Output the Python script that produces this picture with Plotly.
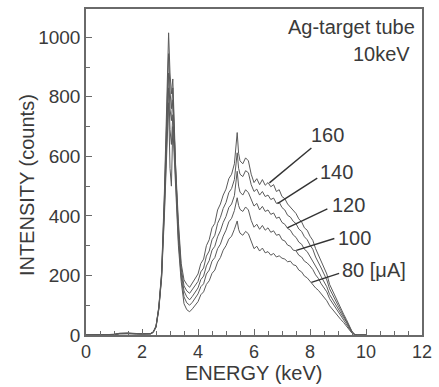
import plotly.graph_objects as go

# ---------------- data ----------------
energy = [0.0, 0.5, 1.0, 1.2, 1.5, 1.8, 2.0, 2.2, 2.3,
          2.4, 2.5, 2.6, 2.7, 2.8, 2.85, 2.9, 2.95, 3.0, 3.05, 3.1, 3.15, 3.2, 3.3, 3.4, 3.5,
          3.6, 3.7, 3.8, 3.9, 4.0, 4.1, 4.2, 4.3, 4.4, 4.5, 4.6, 4.7, 4.8, 4.9, 5.0, 5.1, 5.2, 5.3,
          5.35, 5.4, 5.45,
          5.5, 5.6, 5.7, 5.8, 5.9, 6.0, 6.1, 6.2, 6.3, 6.4, 6.5, 6.6, 6.7, 6.8, 6.9, 7.0, 7.1, 7.2,
          7.3, 7.4, 7.5, 7.6, 7.7, 7.8, 7.9, 8.0, 8.1, 8.2, 8.3, 8.4, 8.5, 8.6, 8.7, 8.8, 8.9, 9.0,
          9.1, 9.2, 9.3, 9.4, 9.5, 9.6, 9.7,
          10.0]

i160 = [0, 0, 2, 6, 7, 5, 4, 3, 5,
        10, 30, 95, 210, 480, 680, 890, 1015, 880, 810, 860, 730, 570, 380, 240, 185,
        170, 160, 175, 190, 205, 240, 255, 300, 320, 360, 375, 420, 440, 470, 490, 525, 540, 575,
        625, 680, 610,
        585, 575, 595, 585, 540, 512, 525, 505, 522, 503, 512, 498, 505, 482, 488, 465, 458, 440,
        430, 420, 408, 390, 380, 360, 352, 332, 318, 290, 270, 250, 225, 205, 170, 150, 125, 110,
        90, 70, 52, 30, 12, 2, 0,
        0]

i140 = [0, 0, 2, 5, 6, 5, 4, 3, 5,
        10, 30, 92, 205, 460, 640, 840, 945, 820, 760, 830, 700, 550, 360, 225, 165,
        148, 140, 152, 168, 180, 212, 225, 265, 282, 320, 335, 375, 395, 425, 445, 478, 492, 522,
        565, 612, 560,
        540, 532, 552, 545, 505, 482, 490, 470, 482, 465, 470, 455, 460, 442, 446, 428, 420, 402,
        396, 382, 374, 356, 348, 330, 320, 302, 288, 262, 245, 225, 205, 185, 155, 135, 115, 100,
        82, 64, 48, 28, 11, 2, 0,
        0]

i120 = [0, 0, 2, 5, 6, 4, 3, 3, 4,
        10, 28, 90, 200, 440, 610, 790, 880, 760, 720, 790, 670, 530, 340, 210, 148,
        128, 118, 130, 145, 158, 186, 198, 232, 250, 285, 298, 330, 350, 378, 398, 428, 440, 468,
        508, 550, 500,
        480, 470, 488, 478, 455, 433, 442, 420, 432, 415, 420, 405, 410, 392, 396, 378, 372, 358,
        352, 336, 328, 312, 305, 288, 280, 264, 250, 230, 215, 196, 180, 162, 136, 120, 102, 90,
        74, 58, 44, 25, 9, 1, 0,
        0]

i100 = [0, 0, 1, 4, 5, 4, 3, 2, 4,
        9, 27, 88, 195, 420, 580, 750, 830, 690, 640, 740, 630, 505, 320, 195, 128,
        108, 100, 110, 125, 138, 162, 172, 205, 218, 248, 260, 290, 305, 332, 352, 380, 392, 418,
        440, 461, 435,
        422, 415, 430, 420, 385, 362, 372, 355, 368, 352, 360, 345, 350, 335, 338, 320, 316, 302,
        298, 285, 283, 268, 262, 248, 242, 232, 220, 202, 190, 172, 160, 145, 122, 108, 92, 80,
        66, 52, 40, 22, 8, 1, 0,
        0]

i80 = [0, 0, 1, 4, 5, 3, 3, 2, 3,
       8, 25, 85, 190, 400, 550, 710, 780, 560, 500, 700, 600, 480, 300, 180, 105,
       85, 78, 88, 100, 112, 135, 145, 170, 182, 207, 218, 245, 260, 285, 300, 322, 332, 355,
       370, 383, 355,
       342, 335, 348, 340, 312, 290, 298, 282, 292, 276, 280, 268, 274, 262, 266, 258, 255, 246,
       248, 236, 233, 218, 212, 198, 192, 180, 172, 158, 150, 138, 130, 115, 98, 86, 74, 64,
       52, 42, 30, 17, 6, 1, 0,
       0]

series = [("160", i160), ("140", i140), ("120", i120), ("100", i100), ("80", i80)]

curve_labels = ["160", "140", "120", "100", "80 [\u03bcA]"]
# label anchor (left, middle) and leader line (start -> point on curve), data coordinates
label_pos = [(7.95, 671), (8.30, 547), (8.72, 437), (8.93, 327), (9.08, 220)]
leader_start = [(8.05, 628), (8.26, 527), (8.62, 424), (8.87, 324), (9.04, 207)]
leader_end = [(6.55, 511), (6.84, 441), (7.19, 360), (7.51, 284), (8.05, 177)]

x_ticks = [0, 2, 4, 6, 8, 10, 12]
y_ticks = [0, 200, 400, 600, 800, 1000]

# ---------------- figure ----------------
FONT = "Liberation Sans, Arial, sans-serif"
TXT = "#3a3a3a"
L, R, T, B = 86, 16, 7, 52
W, H = 439, 387
pw, ph = W - L - R, H - T - B


def px_to_paper(xp, yp):
    return (xp - L) / pw, (H - B - yp) / ph


fig = go.Figure()
for name, vals in series:
    fig.add_trace(go.Scatter(x=energy, y=vals, mode="lines", name=name,
                             line=dict(color="#5a5a5a", width=1), showlegend=False,
                             hoverinfo="skip"))

for (sx, sy), (ex, ey) in zip(leader_start, leader_end):
    fig.add_shape(type="line", x0=sx, y0=sy, x1=ex, y1=ey, xref="x", yref="y",
                  line=dict(color="#333333", width=1.4))

for txt, (lx, ly) in zip(curve_labels, label_pos):
    fig.add_annotation(x=lx, y=ly, xref="x", yref="y", text=txt, showarrow=False,
                       xanchor="left", yanchor="middle", font=dict(size=20, color=TXT, family=FONT))

ax_, ay_ = px_to_paper(418, 25)
fig.add_annotation(x=ax_, y=ay_, xref="paper", yref="paper", text="Ag-target tube",
                   showarrow=False, xanchor="right", yanchor="middle",
                   font=dict(size=20, color=TXT, family=FONT))
ax_, ay_ = px_to_paper(413, 52)
fig.add_annotation(x=ax_, y=ay_, xref="paper", yref="paper", text="10keV",
                   showarrow=False, xanchor="right", yanchor="middle",
                   font=dict(size=20, color=TXT, family=FONT))

axis_common = dict(showline=True, linecolor="#6a6a6a", linewidth=1.5, mirror=True,
                   ticks="inside", ticklen=6, tickcolor="#6a6a6a", tickwidth=1,
                   showgrid=False, zeroline=False)

fig.update_layout(
    width=W, height=H,
    margin=dict(l=L, r=R, t=T, b=B),
    paper_bgcolor="white", plot_bgcolor="white",
    xaxis=dict(range=[0, 12], tickvals=x_ticks, ticklabelstandoff=0,
               tickfont=dict(size=18, color=TXT, family=FONT),
               minor=dict(dtick=0.5, ticks="inside", ticklen=4, tickcolor="#6a6a6a"),
               **axis_common),
    yaxis=dict(range=[0, 1095], tickvals=y_ticks,
               tickfont=dict(size=19, color=TXT, family=FONT),
               minor=dict(dtick=100, ticks="inside", ticklen=4, tickcolor="#6a6a6a"),
               **axis_common),
)

ax_, ay_ = px_to_paper(254, 373)
fig.add_annotation(x=ax_, y=ay_, xref="paper", yref="paper",
                   text="ENERGY (keV)", showarrow=False, xanchor="center", yanchor="middle",
                   font=dict(size=20, color=TXT, family=FONT))
ax_, ay_ = px_to_paper(27, 184)
fig.add_annotation(x=ax_, y=ay_, xref="paper", yref="paper",
                   text="INTENSITY (counts)", showarrow=False, textangle=-90,
                   xanchor="center", yanchor="middle",
                   font=dict(size=20, color=TXT, family=FONT))

fig.write_html("out.html")
